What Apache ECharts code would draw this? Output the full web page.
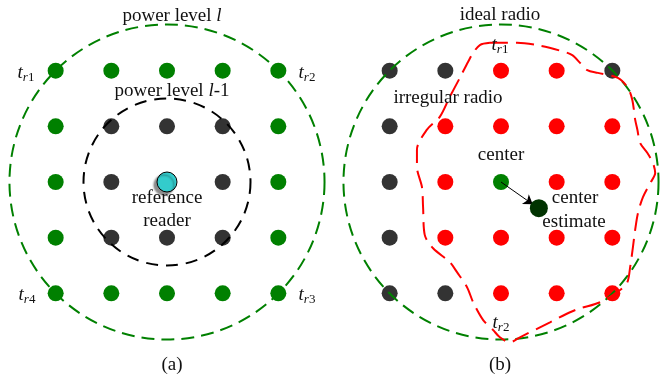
<!DOCTYPE html>
<html><head><meta charset="utf-8">
<script src="https://cdn.jsdelivr.net/npm/echarts@6/dist/echarts.min.js"></script>
<style>html,body{margin:0;padding:0;background:#fff}#c{width:672px;height:381px}</style>
</head><body><div id="c"></div>
<script>
// grid positions (in dot-spacing units)
const cols = [-2, -1, 0, 1, 2];
const rows = [2, 1, 0, -1, -2];
// g = green tag, d = dark tag, r = red tag, c = reference reader
const gridA = ['ggggg', 'gdddg', 'gdcdg', 'gdddg', 'ggggg'];
const gridB = ['ddrrd', 'drrrr', 'drgrr', 'drrrr', 'ddrrr'];
const outerRadius = 2.83;   // power level l / ideal radio
const innerRadius = 1.5;    // power level l-1
// irregular radio boundary
const irregularX = [-0.20, 0.29, 0.70, 1.06, 1.28, 1.42, 1.55, 1.74, 2.10, 2.28, 2.36, 2.41, 2.45, 2.50, 2.63, 2.73, 2.77, 2.68, 2.55, 2.46, 2.41, 2.37, 2.32, 2.27, 2.14, 1.78, 1.42, 1.24, 0.88, 0.70, 0.34, 0.16, -0.02, -0.14, -0.32, -0.50, -0.61, -0.79, -0.92, -1.22, -1.37, -1.40, -1.42, -1.51, -1.51, -1.33, -1.10, -0.92, -0.74, -0.59, -0.50, -0.38, -0.20];
const irregularY = [2.50, 2.50, 2.45, 2.36, 2.28, 2.14, 2.01, 1.96, 1.87, 1.69, 1.47, 1.12, 0.94, 0.70, 0.52, 0.34, 0.16, -0.02, -0.27, -0.56, -0.86, -1.17, -1.53, -1.80, -1.94, -2.16, -2.27, -2.34, -2.52, -2.61, -2.79, -2.88, -2.79, -2.66, -2.48, -2.16, -1.89, -1.62, -1.44, -1.19, -0.95, -0.45, -0.09, 0.27, 0.58, 0.94, 1.17, 1.53, 1.87, 2.16, 2.32, 2.46, 2.50];
const centerPoint = [0, 0];
const centerEstimate = [0.68, -0.47];
const arrowTip = [0.57, -0.40];

const colorOf = { g: '#008000', d: '#333333', r: '#ff0000', c: '#33cccc' };
const FONT = '"Liberation Serif", "Times New Roman", serif';

function dots(grid) {
  const out = [];
  grid.forEach((row, ri) => {
    row.split('').forEach((k, ci) => {
      const item = { value: [cols[ci], rows[ri]], itemStyle: { color: colorOf[k], opacity: 1 } };
      if (k === 'c') {
        item.symbolSize = 20;
        item.itemStyle = { color: colorOf.c, opacity: 1, borderColor: '#000', borderWidth: 1,
          shadowColor: 'rgba(0,0,0,0.45)', shadowBlur: 2, shadowOffsetX: -3, shadowOffsetY: 3 };
      }
      out.push(item);
    });
  });
  return out;
}

function circleSeries(idx, r, color, dash, z) {
  return {
    type: 'custom', xAxisIndex: idx, yAxisIndex: idx, z: z, silent: true,
    data: [[0, 0, r]],
    renderItem: (params, api) => {
      const c = api.coord([api.value(0), api.value(1)]);
      const s = api.size([api.value(2), api.value(2)]);
      return { type: 'circle', shape: { cx: c[0], cy: c[1], r: s[0] },
        style: { fill: 'none', stroke: color, lineWidth: 2, lineDash: dash } };
    }
  };
}

const rich = {
  n: { fontFamily: FONT, fontSize: 19, color: '#111' },
  i: { fontFamily: FONT, fontSize: 19, fontStyle: 'italic', color: '#111', lineHeight: 22 },
  s: { fontFamily: FONT, fontSize: 13, fontStyle: 'italic', color: '#111', verticalAlign: 'bottom', lineHeight: 10 },
  d: { fontFamily: FONT, fontSize: 13, color: '#111', verticalAlign: 'bottom', lineHeight: 10 }
};
function txt(x, y, text) {
  return { type: 'text', x: x, y: y, z: 10,
    style: { text: text, align: 'center', verticalAlign: 'middle', font: '19px ' + FONT, fill: '#111', rich: rich } };
}
const labels = [
  [172, 16, '{n|power level }{i|l}'],
  [172, 91, '{n|power level }{i|l}{n|-1}'],
  [167, 198, 'reference'],
  [167, 221, 'reader'],
  [172, 365, '(a)'],
  [500, 365, '(b)'],
  [26, 73, '{i|t}{s|r}{d|1}'],
  [307, 73, '{i|t}{s|r}{d|2}'],
  [27, 295, '{i|t}{s|r}{d|4}'],
  [307, 295, '{i|t}{s|r}{d|3}'],
  [500, 15, 'ideal radio'],
  [500, 45, '{i|t}{s|r}{d|1}'],
  [448, 98, 'irregular radio'],
  [501, 155, 'center'],
  [575, 198, 'center'],
  [574, 222, 'estimate'],
  [501, 323, '{i|t}{s|r}{d|2}']
];

const axisCommon = { type: 'value', min: -3, max: 3, show: false, splitLine: { show: false } };
const option = {
  animation: false,
  backgroundColor: '#fff',
  grid: [
    { left: 0, top: 15, width: 334, height: 334 },
    { left: 334, top: 15, width: 334, height: 334 }
  ],
  xAxis: [Object.assign({ gridIndex: 0 }, axisCommon), Object.assign({ gridIndex: 1 }, axisCommon)],
  yAxis: [Object.assign({ gridIndex: 0 }, axisCommon), Object.assign({ gridIndex: 1 }, axisCommon)],
  series: [
    { type: 'scatter', xAxisIndex: 0, yAxisIndex: 0, symbolSize: 16, z: 2, data: dots(gridA) },
    { type: 'scatter', xAxisIndex: 1, yAxisIndex: 1, symbolSize: 16, z: 2, data: dots(gridB) },
    circleSeries(0, outerRadius, '#008000', [13, 7], 3),
    circleSeries(0, innerRadius, '#000000', [12, 8], 3),
    circleSeries(1, outerRadius, '#008000', [13, 7], 3),
    { type: 'line', xAxisIndex: 1, yAxisIndex: 1, z: 4, symbol: 'none', smooth: 0.3,
      lineStyle: { color: '#ff0000', width: 2, type: [18, 8] },
      data: irregularX.map((x, i) => [x, irregularY[i]]) },
    { type: 'lines', coordinateSystem: 'cartesian2d', xAxisIndex: 1, yAxisIndex: 1, z: 5,
      symbol: ['none', 'arrow'], symbolSize: 9,
      lineStyle: { color: '#000', width: 1, opacity: 1 },
      data: [{ coords: [centerPoint, arrowTip] }] },
    { type: 'scatter', xAxisIndex: 1, yAxisIndex: 1, symbolSize: 18, z: 6,
      itemStyle: { color: '#013301', opacity: 1 }, data: [centerEstimate] }
  ],
  graphic: labels.map(l => txt(l[0], l[1], l[2]))
};
const chart = echarts.init(document.getElementById('c'), null, { renderer: 'canvas' });
chart.setOption(option);
</script></body></html>
